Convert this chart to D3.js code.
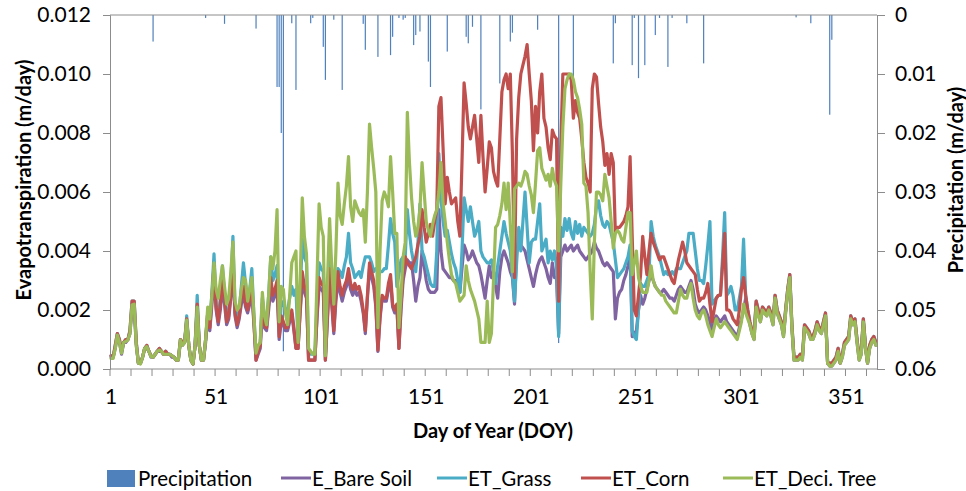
<!DOCTYPE html>
<html><head><meta charset="utf-8">
<script src="https://cdn.jsdelivr.net/npm/d3@7"></script>
<style>
body{margin:0;background:#fff}
svg{display:block}
text{font-family:Lato,"Open Sans",sans-serif;fill:#000}
</style></head>
<body><svg id="chart" width="966" height="491"></svg>
<script>
// ---------- data (m/day), one value per day of year 1..365 ----------
const eBareSoil = [
.0004,.0004,.0007,.0011,.0009,.0005,.0009,.0009,.001,.0012,
.0021,.0021,.0008,.0002,.0002,.0004,.0007,.0007,.0006,.0004,
.0004,.0005,.0006,.0006,.0006,.0005,.0005,.0005,.0005,.0004,
.0004,.0003,.0003,.0009,.0008,.0009,.0016,.0008,.0003,.00017,
.0008,.002,.0008,.0003,.0003,.0009,.0018,.0013,.0022,.0032,
.002,.0015,.002,.0028,.0022,.0015,.0017,.0024,.0034,.0018,
.0014,.0017,.0022,.0026,.0021,.0019,.0022,.0026,.0015,.0003,
.0005,.0007,.002,.0014,.0013,.002,.0028,.0023,.0025,.0027,
.001,.0016,.0015,.0013,.0013,.0016,.0019,.0013,.0007,.0007,
.0019,.003,.0026,.0024,.0003,.0003,.0003,.0003,.0017,.0028,
.0027,.0026,.0003,.0017,.0031,.0022,.0012,.0023,.003,.0026,
.0023,.0026,.0028,.0031,.0027,.0025,.0027,.0025,.0026,.0023,
.0019,.0012,.0024,.0034,.0031,.0028,.0021,.0006,.0017,.0024,
.0023,.0023,.0027,.003,.0021,.0019,.0021,.0007,.002,.003,
.0034,.0037,.0036,.0036,.003,.0023,.0028,.0031,.004,.0035,
.003,.0027,.0026,.0026,.0026,.0027,.0054,.004,.0034,.0033,
.0032,.0031,.0031,.003,.003,.0028,.0026,.0034,.0042,.004,
.0037,.0038,.004,.0038,.0036,.0035,.0032,.0028,.0024,.003,
.0035,.0031,.0031,.0028,.0024,.0033,.0038,.004,.0038,.0036,
.0033,.0031,.0022,.004,.0041,.0042,.0041,.004,.0037,.0034,
.0031,.0028,.0032,.0035,.0037,.0038,.0036,.0034,.0031,.0029,
.0036,.0031,.0031,.0012,.0038,.004,.0042,.004,.0041,.0042,
.004,.0041,.0042,.004,.0039,.0038,.0037,.0038,.0039,.004,
.0043,.0041,.004,.0038,.0036,.0035,.0036,.0035,.0034,.0033,
.0017,.0024,.0026,.0027,.003,.0032,.0035,.004,.0011,.0012,
.0013,.002,.0025,.0022,.0024,.0027,.003,.0032,.003,.0028,
.0027,.0026,.0026,.0027,.0026,.0025,.0024,.0024,.0023,.0025,
.0027,.0028,.0027,.0026,.0026,.0028,.003,.0027,.0022,.002,
.0019,.002,.0021,.002,.0018,.0016,.0013,.0016,.0018,.0017,
.0016,.0017,.0018,.0016,.0015,.0014,.0013,.0012,.0011,.0014,
.0017,.002,.0024,.0019,.0015,.0012,.001,.0022,.0019,.0016,
.002,.0019,.0018,.002,.0018,.0015,.0024,.0019,.0017,.0015,
.0011,.0019,.0026,.0031,.0014,.0003,.0003,.0003,.0004,.0003,
.0014,.0013,.0012,.001,.001,.0012,.0015,.0013,.0012,.0015,
.0018,.0002,.0001,.0001,.0002,.0003,.0006,.0002,.0004,.0008,
.0009,.001,.0017,.0015,.0016,.0009,.0003,.0005,.0016,.0007,
.0002,.0007,.0009,.001,.0008];

const etGrass = [
.00045,.0004,.0008,.0012,.001,.0006,.0009,.001,.001,.0013,
.0023,.0023,.0009,.0002,.0002,.0004,.0007,.0008,.0006,.00045,
.0004,.0005,.0006,.0007,.0006,.0005,.0006,.0005,.0005,.00045,
.0004,.0003,.0003,.001,.0009,.0009,.0018,.0008,.0003,.00017,
.0008,.0025,.0008,.0003,.0003,.001,.0019,.0015,.0026,.0039,
.0022,.0017,.0024,.0035,.0025,.0017,.002,.0029,.0045,.002,
.0017,.002,.0028,.0036,.0029,.0022,.0027,.0034,.0018,.0004,
.0007,.0009,.0024,.0017,.0016,.0025,.0038,.003,.0032,.0035,
.0013,.0023,.0022,.002,.002,.0024,.0028,.0025,.0027,.0009,
.0025,.0044,.0038,.0036,.0005,.0005,.0005,.0005,.0022,.0036,
.0034,.0033,.0005,.0025,.004,.003,.0016,.0028,.0034,.0033,
.0031,.0035,.0038,.0046,.0036,.0034,.0031,.0032,.0033,.0031,
.0035,.0038,.0038,.0038,.0036,.0033,.0034,.0034,.0033,.0033,
.0034,.0034,.0042,.0051,.0046,.0043,.0028,.0032,.0037,.0038,
.0038,.0054,.0046,.004,.0036,.0033,.0042,.0056,.004,.0038,
.0035,.0032,.0029,.0028,.0028,.004,.0073,.0058,.005,.0045,
.0047,.0043,.0039,.0036,.0034,.003,.0026,.004,.0058,.0054,
.005,.0055,.005,.0045,.0047,.005,.004,.0038,.0037,.0036,
.0036,.0037,.0033,.0029,.0035,.004,.0045,.005,.0046,.0043,
.004,.0032,.0023,.0036,.0048,.004,.005,.006,.0048,.0036,
.0043,.0044,.0044,.005,.0056,.004,.0042,.0044,.0036,.004,
.0037,.004,.0035,.0011,.0048,.0045,.0051,.0047,.0051,.0046,
.0044,.005,.0046,.0049,.0045,.0048,.0047,.0046,.0045,.0046,
.0049,.0055,.0057,.0052,.0049,.0048,.005,.0049,.0046,.0043,
.0037,.0031,.0032,.0033,.0034,.0036,.0038,.0042,.0013,.0011,
.001,.002,.0029,.0028,.0028,.003,.0032,.005,.0045,.0042,
.004,.0038,.0035,.0032,.0033,.0032,.0032,.0033,.0032,.0034,
.0034,.0034,.0036,.0038,.004,.0046,.0046,.0046,.004,.0034,
.003,.003,.0029,.0035,.0042,.005,.0022,.0023,.0024,.0025,
.0025,.0038,.0053,.0025,.0026,.0028,.0025,.002,.002,.0024,
.0028,.0044,.0025,.002,.0016,.0013,.0011,.0023,.002,.0017,
.0021,.002,.0019,.0021,.0019,.0016,.0025,.002,.0018,.0016,
.0012,.002,.0027,.0032,.0015,.0004,.0004,.0004,.0005,.0004,
.0015,.0014,.0013,.0011,.0011,.0013,.0016,.0014,.0013,.0016,
.0019,.0002,.0002,.0002,.0003,.0004,.0007,.0002,.0005,.0009,
.001,.0011,.0018,.0016,.0017,.001,.0004,.0006,.0017,.0008,
.0002,.0008,.001,.0011,.0009];

const etCorn = [
.00045,.0004,.0008,.0012,.001,.0006,.0009,.001,.001,.0013,
.0023,.0023,.0009,.0002,.0002,.0004,.0007,.0008,.0006,.00045,
.0004,.0005,.0006,.0007,.0006,.0005,.0006,.0005,.0005,.00045,
.0004,.0003,.0003,.001,.0009,.0009,.0017,.0008,.0003,.00017,
.0008,.0022,.0008,.0003,.0003,.001,.0019,.0014,.0024,.0035,
.0021,.0016,.0022,.0031,.0024,.0016,.0018,.0026,.0038,.0019,
.0015,.0018,.0024,.0028,.0022,.002,.0024,.0028,.0016,.0003,
.0006,.0008,.0022,.0015,.0014,.0022,.0031,.0025,.0027,.003,
.0011,.0018,.0016,.0014,.0014,.0017,.002,.0014,.0007,.0007,
.002,.0033,.0028,.0026,.0003,.0003,.0003,.0003,.0018,.0031,
.0029,.0028,.0003,.0018,.0034,.0024,.0013,.0025,.0033,.0028,
.0025,.0028,.003,.0034,.0029,.0027,.0029,.0027,.0028,.0025,
.002,.0013,.0025,.0036,.0033,.003,.0022,.00064,.0018,.0025,
.0024,.0024,.0029,.0032,.0022,.002,.0022,.0007,.0022,.0032,
.0038,.0036,.0035,.0034,.0036,.0038,.0042,.0045,.0054,.0048,
.0043,.0046,.0049,.0045,.005,.0054,.0089,.0092,.0075,.0056,
.0065,.006,.0056,.0057,.0058,.005,.0045,.007,.0097,.009,
.0082,.0078,.0082,.0086,.0078,.007,.0086,.0072,.006,.0068,
.0077,.0075,.0067,.0064,.0062,.0078,.0094,.0098,.01,.0095,
.01,.0073,.0031,.0078,.0092,.01,.0103,.0106,.011,.01,
.0091,.0074,.0089,.008,.0094,.01,.0085,.0082,.0075,.0071,
.0081,.0079,.0078,.0023,.0075,.01,.01,.01,.01,.0098,
.0085,.0091,.0087,.0085,.0078,.007,.0065,.0063,.006,.0095,
.01,.0099,.009,.0082,.0077,.0069,.0073,.0066,.0073,.007,
.0046,.0048,.0048,.0049,.005,.0052,.0055,.0072,.0045,.002,
.0018,.0025,.0032,.0045,.0038,.0032,.004,.0046,.0043,.0041,
.0039,.0037,.0038,.0038,.0036,.0034,.0032,.003,.0029,.0033,
.0037,.004,.0043,.004,.0036,.0035,.0034,.0033,.0032,.0027,
.0023,.0024,.0024,.0026,.0029,.0022,.0016,.002,.0024,.0025,
.0025,.0035,.0046,.002,.002,.0019,.0017,.0016,.0015,.002,
.0027,.0031,.0025,.002,.0016,.0013,.0011,.0023,.002,.0017,
.0021,.002,.0019,.0021,.0019,.0016,.0025,.002,.0018,.0016,
.0012,.002,.0027,.0032,.0015,.0004,.0004,.0004,.0005,.0004,
.0015,.0014,.0013,.0011,.0011,.0013,.0016,.0014,.0013,.0016,
.0019,.0002,.0002,.0002,.0003,.0004,.0007,.0002,.0005,.0009,
.001,.0011,.0018,.0016,.0017,.001,.0004,.0006,.0017,.0008,
.0002,.0008,.001,.0011,.0009];

const etDeciTree = [
.00036,.00036,.0007,.00115,.0009,.00054,.0009,.00093,.00098,.0012,
.00217,.0022,.0008,.0002,.00017,.0004,.0007,.00076,.0006,.00042,
.0004,.0005,.0006,.00064,.0006,.0005,.0005,.0005,.0005,.00045,
.0004,.0003,.0003,.00098,.0008,.0009,.00166,.0008,.0003,.00017,
.0008,.0021,.0008,.0003,.0003,.001,.0021,.0017,.0025,.0036,
.0027,.0024,.003,.0035,.0028,.0022,.0024,.0033,.0043,.0023,
.002,.0021,.0027,.0031,.003,.0023,.0027,.0031,.0018,.00054,
.0008,.0009,.0026,.0018,.0015,.0025,.0038,.0034,.004,.0054,
.0016,.0028,.0027,.0019,.0015,.0025,.0036,.0038,.004,.0009,
.003,.0058,.0045,.0039,.0007,.0006,.0005,.0005,.003,.0056,
.0048,.0045,.00045,.003,.0051,.0035,.0022,.004,.0063,.0052,
.0049,.0056,.0062,.0072,.0055,.005,.0057,.0055,.0053,.0052,
.0054,.0043,.006,.0083,.0075,.0068,.006,.0014,.004,.0057,
.006,.0058,.0055,.0072,.006,.0046,.0046,.0014,.0025,.0038,
.0043,.0087,.007,.0058,.005,.0045,.0048,.0054,.007,.006,
.005,.0047,.0045,.0049,.0052,.0054,.006,.007,.0056,.005,
.0043,.0037,.0032,.003,.0029,.0026,.0023,.0024,.0025,.0035,
.003,.0027,.0025,.0023,.002,.0017,.0009,.0009,.0009,.0023,
.0009,.0012,.003,.0048,.0049,.0052,.0056,.0063,.0054,.0063,
.0049,.0033,.0061,.0062,.0063,.0062,.0064,.0067,.0066,.0062,
.0059,.0053,.0063,.0074,.0075,.0068,.0066,.0064,.0066,.0062,
.0068,.0064,.0062,.004,.0062,.0082,.0095,.0098,.01,.01,
.0098,.0094,.0092,.0088,.0083,.0063,.0062,.0053,.0033,.0017,
.0043,.006,.006,.0059,.0057,.0066,.0062,.0058,.005,.0041,
.0046,.0047,.0046,.0044,.0043,.0048,.0053,.0053,.0032,.0036,
.004,.0031,.0028,.0026,.0026,.0026,.003,.0035,.003,.0028,
.0027,.0026,.0025,.0025,.0023,.0022,.0021,.002,.0019,.0019,
.0023,.0027,.0025,.0024,.0024,.0027,.0029,.0024,.002,.0018,
.0017,.0019,.002,.0018,.0015,.0013,.0011,.0014,.0017,.0015,
.0014,.0015,.0016,.0015,.0014,.0013,.0012,.0011,.001,.0013,
.0016,.0022,.0019,.0017,.0015,.0012,.001,.0021,.0018,.0016,
.002,.0019,.0018,.002,.0018,.0015,.0024,.0019,.0017,.0015,
.0011,.0019,.0026,.0031,.0014,.0003,.0003,.0003,.0004,.0003,
.0014,.0013,.0012,.001,.001,.0012,.0015,.0013,.0012,.0015,
.0018,.0002,.0001,.0001,.0002,.0003,.0006,.0002,.0004,.0008,
.0009,.001,.0017,.0015,.0016,.0009,.0003,.0005,.0016,.0007,
.0002,.0007,.0009,.001,.0008];

// precipitation: days with rain and the amount (m/day)
const precipDays   = [21,46,55,70,80,81,82,83,87,89,96,97,102,103,107,111,121,122,128,134,135,138,140,141,145,146,148,152,153,161,170,171,173,177,186,191,192,204,214,221,240,241,249,250,252,255,260,262,266,268,275,283,327,334,343,344];
const precipValues = [.0045,.0005,.0015,.0023,.0122,.0122,.02,.057,.0014,.0127,.0014,.0005,.0054,.011,.0008,.0127,.0015,.0059,.0071,.0068,.0037,.0005,.0008,.0005,.0051,.0034,.0028,.0079,.0122,.0062,.0037,.0048,.002,.016,.0116,.0045,.003,.0025,.0556,.0105,.0082,.0014,.0085,.0005,.0107,.0085,.0034,.0005,.0088,.0005,.0014,.0082,.0004,.0014,.0169,.0042];

const seriesNames  = ["E_Bare Soil","ET_Grass","ET_Corn","ET_Deci. Tree"];
const leftTicks    = [0,0.002,0.004,0.006,0.008,0.010,0.012];
const rightTicks   = [0,0.01,0.02,0.03,0.04,0.05,0.06];
const xLabelDays   = [1,51,101,151,201,251,301,351];

// ---------- drawing ----------
const seriesData   = [eBareSoil, etGrass, etCorn, etDeciTree];
const colors       = ["#8064A2","#4BACC6","#C0504D","#9BBB59"];
const precipColor  = "#4F81BD";
const axisColor    = "#8c8c8c";
const L = 110, R = 877, T = 15, B = 369;
const nDays = 365;

const svg = d3.select("#chart");
const x  = d3.scaleLinear().domain([0.5, nDays + 0.5]).range([L, R]);
const y  = d3.scaleLinear().domain([0, 0.012]).range([B, T]);
const yP = d3.scaleLinear().domain([0, 0.06]).range([T, B]);

// precipitation bars hanging from the top
svg.append("g").selectAll("rect").data(precipDays).join("rect")
  .attr("x", d => x(d) - 0.6)
  .attr("width", 1.2)
  .attr("y", T)
  .attr("height", (d, i) => yP(precipValues[i]) - T)
  .attr("fill", precipColor);

// ET lines
const line = d3.line().x((d, i) => x(i + 1)).y(d => y(d)).curve(d3.curveLinear);
seriesData.forEach((s, k) => {
  svg.append("path").datum(s)
    .attr("d", line)
    .attr("fill", "none")
    .attr("stroke", colors[k])
    .attr("stroke-width", 3.2)
    .attr("stroke-linejoin", "round")
    .attr("stroke-linecap", "round");
});

// left axis
const gl = svg.append("g").attr("transform", `translate(${L},0)`)
  .call(d3.axisLeft(y).tickValues(leftTicks).tickFormat(d3.format(".3f")).tickSize(7).tickPadding(12));
// right axis
const gr = svg.append("g").attr("transform", `translate(${R},0)`)
  .call(d3.axisRight(yP).tickValues(rightTicks).tickFormat(d => d === 0 ? "0" : d3.format(".2f")(d)).tickSize(8).tickPadding(10));
[gl, gr].forEach(g => {
  g.select(".domain").attr("stroke", axisColor);
  g.selectAll(".tick line").attr("stroke", axisColor);
  g.selectAll(".tick text").attr("font-size", 21).attr("fill", "#000")
    .style("font-family", "Lato,'Open Sans',sans-serif");
});

// bottom axis (category axis: tick marks every 10 days, labels every 50)
const tickBounds = d3.range(0, 37).map(k => 0.5 + 10 * k);
const gb = svg.append("g");
gb.append("line").attr("x1", L).attr("x2", R).attr("y1", B).attr("y2", B).attr("stroke", axisColor);
gb.selectAll("line.t").data(tickBounds).join("line").attr("class", "t")
  .attr("x1", d => x(d)).attr("x2", d => x(d)).attr("y1", B).attr("y2", B + 7).attr("stroke", axisColor);
gb.selectAll("text").data(xLabelDays).join("text")
  .attr("x", d => x(d)).attr("y", B + 35).attr("text-anchor", "middle")
  .attr("font-size", 21).text(d => d);

// top category axis of the precipitation series
svg.append("line").attr("x1", L).attr("x2", R).attr("y1", T).attr("y2", T).attr("stroke", axisColor);

// axis titles
svg.append("text").attr("x", 493).attr("y", 438).attr("text-anchor", "middle")
  .attr("font-size", 20).attr("font-weight", "bold").text("Day of Year (DOY)");
svg.append("text").attr("transform", "translate(31,180) rotate(-90)").attr("text-anchor", "middle")
  .attr("font-size", 20).attr("font-weight", "bold").text("Evapotranspiration (m/day)");
svg.append("text").attr("transform", "translate(963,180) rotate(-90)").attr("text-anchor", "middle")
  .attr("font-size", 20).attr("font-weight", "bold").text("Precipitation (m/day)");

// legend
const lg = svg.append("g");
lg.append("rect").attr("x", 107).attr("y", 470).attr("width", 28).attr("height", 17).attr("fill", precipColor);
lg.append("text").attr("x", 138).attr("y", 486).attr("font-size", 20.5).text("Precipitation");
const legX = [281, 437, 581, 723];
seriesNames.forEach((n, k) => {
  lg.append("line").attr("x1", legX[k]).attr("x2", legX[k] + 30).attr("y1", 478).attr("y2", 478)
    .attr("stroke", colors[k]).attr("stroke-width", 3);
  lg.append("text").attr("x", legX[k] + 31).attr("y", 486).attr("font-size", 20.5).text(n);
});
</script></body></html>
